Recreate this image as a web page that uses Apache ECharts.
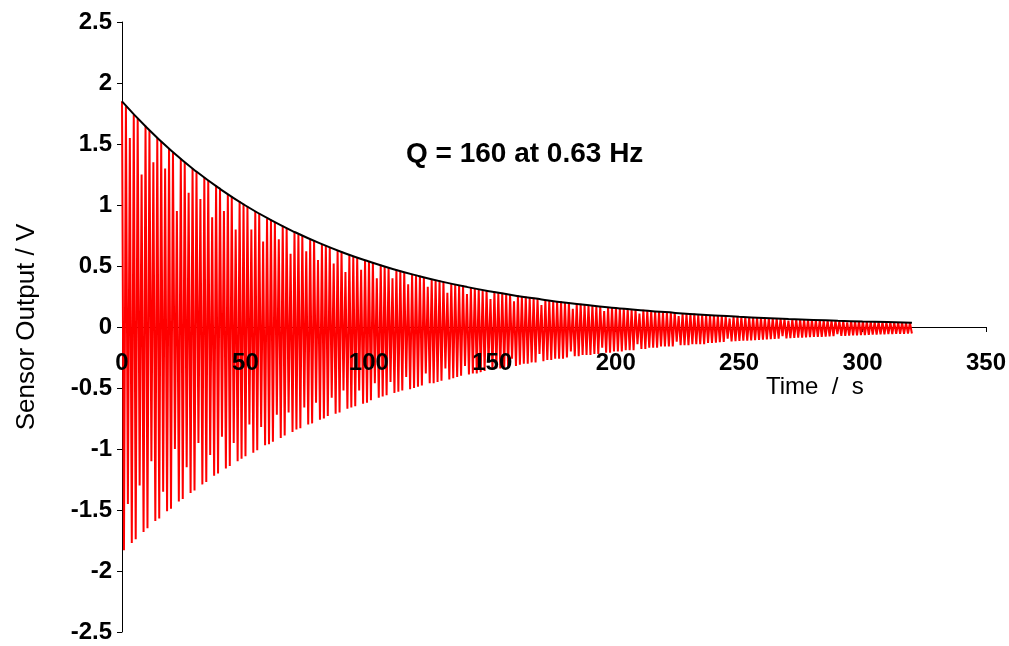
<!DOCTYPE html>
<html>
<head>
<meta charset="utf-8">
<title>Q = 160 at 0.63 Hz</title>
<script src="https://cdn.jsdelivr.net/npm/echarts@6.0.0/dist/echarts.min.js"></script>
<style>
  html, body { margin: 0; padding: 0; background: #fff; }
  #chart { width: 1009px; height: 646px; }
</style>
</head>
<body>
<div id="chart"></div>
<script>
// one oscillation every ~1.588 s (0.63 Hz); a crest then a trough each cycle
const PERIOD = 1.588

// crest values, cycle by cycle
const upperPeaks = [
  1.85, 1.81, 1.55, 1.74, 1.71, 1.25, 1.65, 1.61, 1.35, 1.55,
  1.52, 1.30, 1.46, 1.43, 0.95, 1.38, 1.35, 1.10, 1.30, 1.27,
  1.05, 1.23, 1.20, 0.90, 1.16, 1.13, 0.95, 1.09, 1.07, 0.80,
  1.03, 1.01, 0.99, 0.80, 0.95, 0.93, 0.70, 0.89, 0.88, 0.86,
  0.72, 0.83, 0.81, 0.60, 0.78, 0.76, 0.75, 0.62, 0.72, 0.71,
  0.55, 0.68, 0.67, 0.65, 0.52, 0.63, 0.62, 0.45, 0.59, 0.58,
  0.57, 0.47, 0.55, 0.54, 0.53, 0.40, 0.51, 0.50, 0.49, 0.40,
  0.47, 0.46, 0.45, 0.35, 0.43, 0.42, 0.42, 0.41, 0.33, 0.39,
  0.38, 0.38, 0.37, 0.28, 0.36, 0.35, 0.34, 0.34, 0.27, 0.32,
  0.32, 0.31, 0.30, 0.30, 0.23, 0.29, 0.28, 0.28, 0.27, 0.27,
  0.21, 0.26, 0.25, 0.25, 0.24, 0.24, 0.23, 0.18, 0.22, 0.22,
  0.21, 0.21, 0.21, 0.20, 0.20, 0.15, 0.19, 0.19, 0.18, 0.18,
  0.18, 0.17, 0.17, 0.13, 0.16, 0.16, 0.16, 0.15, 0.15, 0.15,
  0.14, 0.14, 0.11, 0.14, 0.13, 0.13, 0.13, 0.13, 0.12, 0.12,
  0.12, 0.12, 0.09, 0.11, 0.11, 0.11, 0.11, 0.10, 0.10, 0.10,
  0.097, 0.095, 0.093, 0.091, 0.090, 0.070, 0.086, 0.085, 0.083, 0.081,
  0.080, 0.078, 0.077, 0.075, 0.074, 0.072, 0.071, 0.070, 0.068, 0.067,
  0.052, 0.064, 0.063, 0.062, 0.061, 0.060, 0.058, 0.057, 0.056, 0.055,
  0.054, 0.053, 0.052, 0.051, 0.050, 0.038, 0.048, 0.047, 0.046, 0.045,
  0.044, 0.043, 0.042, 0.042, 0.041, 0.040, 0.039, 0.038, 0.038, 0.037,
  0.036, 0.035
]

// trough values, half a cycle after each crest
const lowerPeaks = [
  -1.83, -1.45, -1.77, -1.74, -1.30, -1.68, -1.65, -1.10, -1.59, -1.57,
  -1.35, -1.51, -1.49, -1.00, -1.43, -1.41, -1.15, -1.36, -1.34, -0.95,
  -1.29, -1.27, -1.05, -1.22, -1.20, -0.90, -1.16, -1.14, -0.95, -1.10,
  -1.08, -1.06, -0.80, -1.03, -1.01, -0.82, -0.97, -0.96, -0.94, -0.72,
  -0.91, -0.89, -0.70, -0.86, -0.84, -0.83, -0.66, -0.80, -0.79, -0.62,
  -0.76, -0.75, -0.73, -0.58, -0.71, -0.70, -0.52, -0.67, -0.66, -0.65,
  -0.52, -0.63, -0.62, -0.60, -0.46, -0.58, -0.57, -0.56, -0.45, -0.54,
  -0.53, -0.52, -0.41, -0.51, -0.50, -0.49, -0.48, -0.38, -0.46, -0.46,
  -0.45, -0.44, -0.34, -0.43, -0.42, -0.41, -0.40, -0.32, -0.39, -0.38,
  -0.38, -0.37, -0.36, -0.29, -0.35, -0.34, -0.34, -0.33, -0.33, -0.26,
  -0.32, -0.31, -0.30, -0.30, -0.29, -0.29, -0.22, -0.28, -0.27, -0.27,
  -0.26, -0.26, -0.26, -0.25, -0.20, -0.24, -0.24, -0.23, -0.23, -0.23,
  -0.22, -0.22, -0.17, -0.21, -0.21, -0.20, -0.20, -0.20, -0.19, -0.19,
  -0.19, -0.14, -0.18, -0.18, -0.17, -0.17, -0.17, -0.16, -0.16, -0.16,
  -0.16, -0.12, -0.15, -0.15, -0.15, -0.14, -0.14, -0.14, -0.14, -0.13,
  -0.130, -0.128, -0.125, -0.123, -0.095, -0.119, -0.117, -0.115, -0.113, -0.111,
  -0.109, -0.107, -0.105, -0.103, -0.101, -0.100, -0.098, -0.096, -0.075, -0.093,
  -0.092, -0.090, -0.088, -0.087, -0.085, -0.084, -0.082, -0.081, -0.080, -0.078,
  -0.077, -0.075, -0.058, -0.073, -0.072, -0.070, -0.069, -0.068, -0.067, -0.066,
  -0.064, -0.063, -0.062, -0.061, -0.060, -0.059, -0.058, -0.057, -0.056, -0.055,
  -0.054, -0.053
]

// decay envelope (black curve)
const envelopeTimes = [0, 10, 20, 30, 40, 50, 60, 70, 80, 90, 100, 110, 120, 130, 140, 150, 160,
  170, 180, 190, 200, 210, 220, 230, 240, 250, 260, 270, 280, 290, 300, 310, 320]
const envelopeValues = [1.850, 1.635, 1.444, 1.276, 1.128, 0.996, 0.880, 0.778, 0.687, 0.607, 0.537,
  0.474, 0.419, 0.370, 0.327, 0.289, 0.255, 0.226, 0.199, 0.176, 0.156, 0.137, 0.122, 0.107,
  0.095, 0.084, 0.074, 0.065, 0.058, 0.051, 0.045, 0.040, 0.035]

const signal = []
upperPeaks.forEach((v, i) => {
  signal.push([i * PERIOD, v])
  signal.push([(i + 0.5) * PERIOD, lowerPeaks[i]])
})
const envelope = envelopeTimes.map((t, i) => [t, envelopeValues[i]])

const font = 'Liberation Sans, Arial, sans-serif'
const timeAxis = {
  type: 'value',
  min: 0,
  max: 350,
  interval: 50,
  position: 'bottom',
  // the axis sits on the zero line, half way up the grid
  offset: -305,
  splitLine: { show: false }
}

const chart = echarts.init(document.getElementById('chart'))
const option = {
  animation: false,
  backgroundColor: '#ffffff',
  title: {
    text: 'Q = 160 at 0.63 Hz',
    left: 401,
    top: 135,
    textStyle: {
      fontFamily: font,
      fontSize: 28,
      fontWeight: 'bold',
      color: '#000'
    }
  },
  grid: {
    left: 122,
    right: 23,
    top: 22,
    bottom: 14,
    outerBoundsMode: 'none'
  },
  graphic: [{
    type: 'text',
    left: 766,
    top: 375,
    style: {
      text: 'Time  /  s',
      font: '24px ' + font,
      fill: '#000'
    }
  }],
  xAxis: [
    // line and ticks, behind the trace
    Object.assign({}, timeAxis, {
      z: 0,
      axisLine: { onZero: false, lineStyle: { color: '#000', width: 1 } },
      axisTick: { show: true, length: 5, lineStyle: { color: '#000' } },
      axisLabel: { show: false }
    }),
    // tick labels, drawn over the trace
    Object.assign({}, timeAxis, {
      z: 10,
      axisLine: { show: false, onZero: false },
      axisTick: { show: false },
      axisLabel: {
        margin: 24,
        fontFamily: font,
        fontSize: 24,
        fontWeight: 'bold',
        color: '#000'
      }
    })
  ],
  yAxis: {
    type: 'value',
    min: -2.5,
    max: 2.5,
    interval: 0.5,
    name: 'Sensor Output / V',
    nameLocation: 'middle',
    nameGap: 82,
    nameTextStyle: {
      fontFamily: font,
      fontSize: 26,
      color: '#000'
    },
    axisLine: { show: true, lineStyle: { color: '#000', width: 1 } },
    axisTick: { show: true, length: 5, lineStyle: { color: '#000' } },
    axisLabel: {
      margin: 10,
      fontFamily: font,
      fontSize: 24,
      fontWeight: 'bold',
      color: '#000'
    },
    splitLine: { show: false }
  },
  series: [
    {
      name: 'signal',
      type: 'line',
      data: signal,
      showSymbol: false,
      sampling: null,
      lineStyle: { color: '#ff0000', width: 2 },
      z: 2
    },
    {
      name: 'envelope',
      type: 'line',
      data: envelope,
      smooth: true,
      showSymbol: false,
      lineStyle: { color: '#000', width: 2 },
      z: 3
    }
  ]
}
chart.setOption(option)
</script>
</body>
</html>
